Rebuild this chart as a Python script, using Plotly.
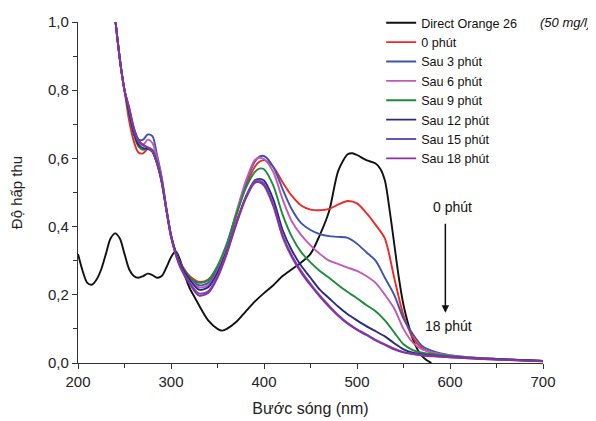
import plotly.graph_objects as go

# ---------------- data ----------------
dye_wl = [200, 205, 210, 215, 220, 225, 230, 235, 240, 245, 250, 255, 260, 265, 270, 275, 280, 285,
          290, 295, 300, 305, 310, 315, 320, 326, 330, 340, 350, 355, 360, 370, 380, 390, 400, 410,
          420, 430, 440, 450, 460, 470, 480, 490, 495, 500, 510, 520, 525, 530, 535, 540, 545, 550,
          555, 560, 565, 570, 575, 580]
dye_abs = [0.32, 0.27, 0.235, 0.23, 0.245, 0.275, 0.32, 0.365, 0.38, 0.365, 0.32, 0.275, 0.255, 0.25,
           0.255, 0.262, 0.258, 0.25, 0.255, 0.28, 0.31, 0.328, 0.30, 0.255, 0.22, 0.19, 0.17, 0.125,
           0.1, 0.095, 0.1, 0.12, 0.15, 0.18, 0.205, 0.228, 0.255, 0.275, 0.295, 0.32, 0.375, 0.445,
           0.565, 0.612, 0.615, 0.61, 0.595, 0.585, 0.57, 0.535, 0.45, 0.35, 0.25, 0.17, 0.115, 0.07,
           0.04, 0.02, 0.008, 0.0]

wl = [238, 242, 246, 250, 255, 260, 265, 270, 275, 280, 285, 290, 295, 300, 305, 310, 320, 330, 340,
      350, 360, 370, 380, 390, 395, 400, 410, 420, 430, 440, 450, 460, 470, 480, 490, 500, 510, 520,
      530, 540, 550, 560, 570, 580, 590, 600, 620, 650, 680, 700]

abs_0 = [1.06, 0.96, 0.87, 0.80, 0.71, 0.65, 0.617, 0.615, 0.628, 0.625, 0.59, 0.54, 0.45, 0.37, 0.325,
         0.295, 0.255, 0.238, 0.245, 0.28, 0.345, 0.43, 0.515, 0.575, 0.59, 0.595, 0.575, 0.53, 0.49,
         0.462, 0.45, 0.448, 0.452, 0.465, 0.475, 0.468, 0.44, 0.405, 0.365, 0.25, 0.14, 0.075, 0.043,
         0.03, 0.025, 0.021, 0.016, 0.012, 0.008, 0.006]
abs_3 = [1.06, 0.96, 0.87, 0.80, 0.745, 0.69, 0.655, 0.655, 0.67, 0.665, 0.61, 0.545, 0.455, 0.375, 0.325,
         0.29, 0.25, 0.228, 0.235, 0.275, 0.345, 0.435, 0.525, 0.59, 0.605, 0.607, 0.575, 0.51, 0.45,
         0.41, 0.39, 0.378, 0.372, 0.37, 0.367, 0.35, 0.325, 0.3, 0.25, 0.2, 0.13, 0.085, 0.05,
         0.036, 0.028, 0.023, 0.017, 0.012, 0.008, 0.006]
abs_6 = [1.06, 0.96, 0.87, 0.80, 0.74, 0.68, 0.645, 0.64, 0.655, 0.645, 0.6, 0.54, 0.455, 0.375, 0.325,
         0.29, 0.245, 0.222, 0.228, 0.27, 0.345, 0.44, 0.53, 0.595, 0.602, 0.598, 0.56, 0.48, 0.415,
         0.375, 0.345, 0.32, 0.3, 0.29, 0.28, 0.27, 0.255, 0.235, 0.2, 0.16, 0.1, 0.06, 0.04,
         0.032, 0.026, 0.022, 0.016, 0.012, 0.008, 0.006]
abs_9 = [1.06, 0.96, 0.87, 0.80, 0.73, 0.67, 0.635, 0.625, 0.632, 0.625, 0.59, 0.535, 0.45, 0.375, 0.325,
         0.292, 0.252, 0.235, 0.243, 0.285, 0.35, 0.435, 0.51, 0.56, 0.57, 0.568, 0.52, 0.435, 0.37,
         0.325, 0.295, 0.27, 0.25, 0.228, 0.208, 0.19, 0.17, 0.152, 0.125, 0.09, 0.055, 0.038, 0.03,
         0.026, 0.023, 0.02, 0.015, 0.011, 0.008, 0.006]
abs_12 = [1.06, 0.96, 0.87, 0.80, 0.735, 0.675, 0.64, 0.63, 0.628, 0.62, 0.585, 0.53, 0.45, 0.375, 0.325,
          0.29, 0.245, 0.215, 0.222, 0.265, 0.33, 0.41, 0.485, 0.535, 0.54, 0.535, 0.48, 0.39, 0.33,
          0.285, 0.25, 0.215, 0.19, 0.165, 0.143, 0.125, 0.108, 0.093, 0.078, 0.058, 0.04, 0.03, 0.025,
          0.022, 0.02, 0.018, 0.015, 0.011, 0.008, 0.006]
abs_15 = [1.06, 0.96, 0.87, 0.80, 0.745, 0.685, 0.65, 0.638, 0.632, 0.62, 0.585, 0.53, 0.45, 0.372, 0.32,
          0.283, 0.236, 0.204, 0.21, 0.255, 0.325, 0.408, 0.483, 0.532, 0.535, 0.526, 0.465, 0.375, 0.315,
          0.27, 0.232, 0.198, 0.168, 0.14, 0.117, 0.099, 0.084, 0.068, 0.055, 0.042, 0.032, 0.027, 0.023,
          0.021, 0.019, 0.017, 0.014, 0.01, 0.007, 0.005]
abs_18 = [1.06, 0.96, 0.87, 0.80, 0.75, 0.69, 0.655, 0.64, 0.632, 0.62, 0.585, 0.53, 0.45, 0.37, 0.318,
          0.28, 0.232, 0.198, 0.205, 0.25, 0.32, 0.405, 0.48, 0.528, 0.53, 0.52, 0.46, 0.37, 0.31,
          0.265, 0.228, 0.195, 0.165, 0.138, 0.115, 0.097, 0.082, 0.066, 0.053, 0.04, 0.031, 0.026, 0.022,
          0.02, 0.018, 0.017, 0.014, 0.01, 0.007, 0.005]

series_names = ["0 phút", "Sau 3 phút", "Sau 6 phút", "Sau 9 phút", "Sau 12 phút", "Sau 15 phút", "Sau 18 phút"]
series_vals = [abs_0, abs_3, abs_6, abs_9, abs_12, abs_15, abs_18]
series_colors = ["#f02828", "#3c54b0", "#c05ab8", "#1e8a3c", "#2b2a7e", "#6a50b4", "#8a30a0"]

x_ticks = [200, 300, 400, 500, 600, 700]
y_ticks = [0.0, 0.2, 0.4, 0.6, 0.8, 1.0]

FONT = "Liberation Sans, Arial, sans-serif"

fig = go.Figure()
fig.add_trace(go.Scatter(x=dye_wl, y=dye_abs, mode="lines", name="Direct Orange 26",
                         line=dict(color="#111111", width=1.9, shape="spline", smoothing=0.8)))
for name, vals, col in zip(series_names, series_vals, series_colors):
    fig.add_trace(go.Scatter(x=wl, y=vals, mode="lines", name=name,
                             line=dict(color=col, width=1.9, shape="spline", smoothing=0.8)))

# the page body adds an 8px margin, so the figure is sized to fit the 596x421 window
fig.update_layout(
    width=588, height=413,
    margin=dict(l=70, r=53, t=14, b=58, autoexpand=False),
    paper_bgcolor="white", plot_bgcolor="white",
    separators=", ",
    font=dict(family=FONT, size=14, color="#222222"),
    showlegend=True,
    legend=dict(x=0.652, y=1.041, xanchor="left", yanchor="top", bgcolor="rgba(0,0,0,0)",
                font=dict(size=12.6, color="#111111"), tracegroupgap=0, itemwidth=30),
    xaxis=dict(range=[200, 700], tickvals=x_ticks, ticks="outside", ticklen=5, tickwidth=1.3,
               tickcolor="#333333", showline=True, linecolor="#333333", linewidth=1.3,
               showgrid=False, zeroline=False, tickfont=dict(size=15, color="#222222"),
               automargin=False,
               minor=dict(dtick=50, tick0=200, ticks="outside", ticklen=4, tickcolor="#333333", tickwidth=1.3, showgrid=False),
               title=dict(text="Bước sóng (nm)", font=dict(size=16, color="#222222"), standoff=13)),
    yaxis=dict(range=[0, 1.0], tickvals=y_ticks, tickformat=".1f", ticks="outside", ticklen=5, tickwidth=1.3,
               tickcolor="#333333", showline=True, linecolor="#333333", linewidth=1.3,
               showgrid=False, zeroline=False, tickfont=dict(size=15, color="#222222"),
               automargin=False,
               minor=dict(dtick=0.1, tick0=0, ticks="outside", ticklen=4, tickcolor="#333333", tickwidth=1.3, showgrid=False),
               title=dict(text="Độ hấp thu", font=dict(size=15, color="#222222"), standoff=22)),
)

fig.add_annotation(x=0.989, y=1.0, xref="paper", yref="paper", xanchor="left", yanchor="middle",
                   text="<i>(50 mg/l)</i>", showarrow=False, font=dict(size=13, color="#111111"))
fig.add_annotation(x=603, y=0.457, xref="x", yref="y", text="0 phút", showarrow=False,
                   font=dict(size=14, color="#111111"))
fig.add_annotation(x=598, y=0.108, xref="x", yref="y", text="18 phút", showarrow=False,
                   font=dict(size=14, color="#111111"))
fig.add_annotation(x=595, y=0.147, ax=595, ay=0.413, xref="x", yref="y", axref="x", ayref="y",
                   text="", showarrow=True, arrowhead=2, arrowsize=1, arrowwidth=1.5, arrowcolor="#111111")

fig.write_html("out.html")
